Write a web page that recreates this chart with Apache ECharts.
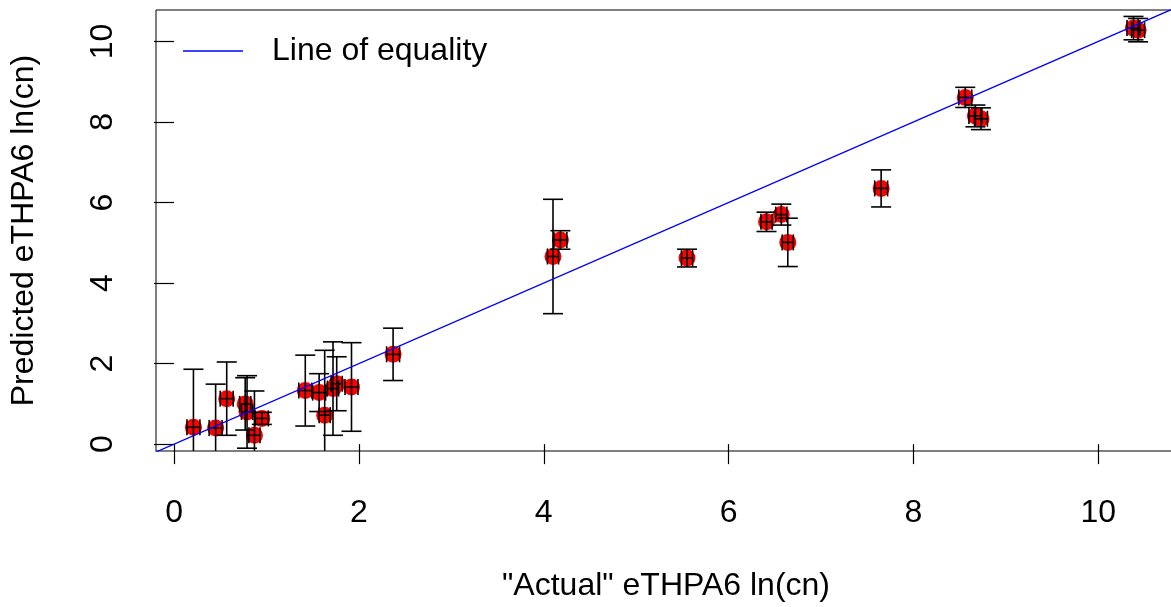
<!DOCTYPE html>
<html>
<head>
<meta charset="utf-8">
<script src="https://cdn.jsdelivr.net/npm/echarts@6/dist/echarts.min.js"></script>
<style>
  html, body { margin: 0; padding: 0; background: #ffffff; }
  #chart { width: 1171px; height: 607px; }
</style>
</head>
<body>
<div id="chart"></div>
<script>
// Measured vs. predicted eTHPA6 ln(cn), with error bars on both axes
const actual    = [0.21, 0.45, 0.57, 0.77, 0.79, 0.87, 0.95, 1.42, 1.57, 1.63, 1.72, 1.76, 1.92, 2.37,
                   4.10, 4.18, 5.55, 6.41, 6.57, 6.64, 7.65, 8.56, 8.67, 8.73, 10.38, 10.43];
const predicted = [0.42, 0.40, 1.13, 1.00, 0.80, 0.22, 0.64, 1.33, 1.28, 0.72, 1.38, 1.50, 1.42, 2.23,
                   4.66, 5.07, 4.62, 5.52, 5.70, 5.01, 6.35, 8.61, 8.15, 8.08, 10.33, 10.28];
const predictedErr = [1.44, 1.09, 0.91, 0.65, 0.90, 1.10, 0.15, 0.88, 0.47, 1.61, 1.16, 0.67, 1.10, 0.65,
                      1.42, 0.23, 0.22, 0.24, 0.26, 0.60, 0.46, 0.25, 0.27, 0.27, 0.29, 0.29];
const actualErr = [0.07, 0.07, 0.07, 0.06, 0.06, 0.06, 0.07, 0.07, 0.07, 0.06, 0.06, 0.06, 0.07, 0.07,
                   0.06, 0.07, 0.06, 0.06, 0.06, 0.06, 0.07, 0.07, 0.07, 0.07, 0.07, 0.07];
const tickValues = [0, 2, 4, 6, 8, 10];
const equalityEnds = [-1, 12];

const xTitle = '"Actual" eTHPA6 ln(cn)';
const yTitle = 'Predicted eTHPA6 ln(cn)';
const legendLabel = 'Line of equality';

const FONT = '"Liberation Sans", Arial, Helvetica, sans-serif';
const FS = 32;

const points = actual.map((x, i) => [x, predicted[i], predictedErr[i], actualErr[i]]);
const equalityLine = equalityEnds.map(v => [v, v]);

function renderErrorBars(params, api) {
  const x = api.value(0), y = api.value(1), ey = api.value(2), ex = api.value(3);
  const c = api.coord([x, y]);
  const top = api.coord([x, y + ey])[1];
  const bot = api.coord([x, y - ey])[1];
  const left = api.coord([x - ex, y])[0];
  const right = api.coord([x + ex, y])[0];
  const style = { stroke: '#000000', lineWidth: 1.6, fill: null };
  const cap = 10, hcap = 8;
  const seg = (x1, y1, x2, y2) => ({ type: 'line', shape: { x1, y1, x2, y2 }, style });
  return {
    type: 'group',
    children: [
      seg(c[0], top, c[0], bot),
      seg(c[0] - cap, top, c[0] + cap, top),
      seg(c[0] - cap, bot, c[0] + cap, bot),
      seg(left, c[1], right, c[1]),
      seg(left, c[1] - hcap, left, c[1] + hcap),
      seg(right, c[1] - hcap, right, c[1] + hcap)
    ]
  };
}

const chart = echarts.init(document.getElementById('chart'), null, { renderer: 'canvas' });
chart.setOption({
  animation: false,
  backgroundColor: '#ffffff',
  textStyle: { fontFamily: FONT, color: '#000000' },
  grid: {
    left: 156, top: 10, right: -5, bottom: 156,
    outerBoundsMode: 'none', containLabel: false,
    show: true, borderColor: '#000000', borderWidth: 1, backgroundColor: 'transparent'
  },
  legend: {
    left: 178, top: 30,
    itemWidth: 60, itemHeight: 1.5, icon: 'rect',
    data: [{ name: legendLabel }],
    textStyle: { fontSize: FS, color: '#000000', fontFamily: FONT, padding: [0, 0, 0, 24] }
  },
  xAxis: {
    type: 'value', min: -0.195, max: 10.84,
    axisLine: { show: false },
    splitLine: { show: false },
    axisTick: { show: true, customValues: tickValues, length: 20, lineStyle: { color: '#000000', width: 1.2 } },
    axisLabel: { customValues: tickValues, fontSize: FS, color: '#000000', margin: 46, fontFamily: FONT },
    name: xTitle, nameLocation: 'middle', nameGap: 119,
    nameTextStyle: { fontSize: FS, color: '#000000', fontFamily: FONT }
  },
  yAxis: {
    type: 'value', min: -0.17, max: 10.78,
    axisLine: { show: false },
    splitLine: { show: false },
    axisTick: { show: true, customValues: tickValues, length: 20, lineStyle: { color: '#000000', width: 1.2 } },
    axisLabel: { customValues: tickValues, fontSize: FS, color: '#000000', margin: 37, rotate: 90, fontFamily: FONT },
    name: yTitle, nameLocation: 'middle', nameGap: 116, nameRotate: 90,
    nameTextStyle: { fontSize: FS, color: '#000000', fontFamily: FONT }
  },
  series: [
    {
      name: 'points', type: 'scatter', data: points, symbol: 'circle', symbolSize: 17,
      itemStyle: { color: '#ff0000', opacity: 1 }, z: 2, silent: true
    },
    {
      name: 'errors', type: 'custom', data: points, renderItem: renderErrorBars,
      clip: true, z: 3, silent: true
    },
    {
      name: legendLabel, type: 'line', data: equalityLine, showSymbol: false, symbol: 'none',
      lineStyle: { color: '#0000ff', width: 1.3 }, itemStyle: { color: '#0000ff' },
      clip: true, z: 4, silent: true
    }
  ]
});
</script>
</body>
</html>
